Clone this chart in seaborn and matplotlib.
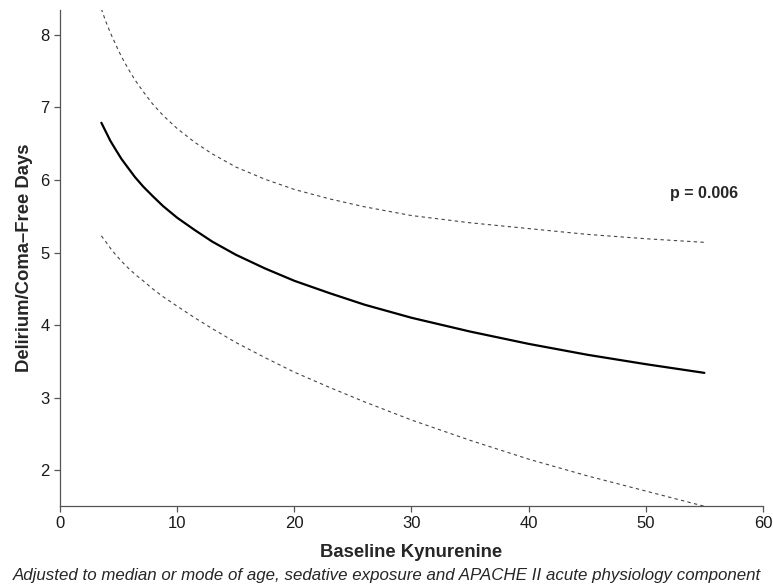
import matplotlib
matplotlib.use("Agg")
import matplotlib.pyplot as plt
import seaborn as sns
import pandas as pd

# Data
kynurenine = [3.53, 3.9, 4.3, 4.75, 5.25, 5.8, 6.4, 7.1, 7.9, 8.8, 10, 11.5, 13, 15, 17.5,
              20, 23, 26, 30, 35, 40, 45, 50, 55]
estimate = [6.79, 6.67, 6.54, 6.42, 6.29, 6.17, 6.04, 5.91, 5.78, 5.64, 5.48, 5.31, 5.15, 4.97, 4.78,
            4.61, 4.44, 4.28, 4.10, 3.91, 3.74, 3.59, 3.46, 3.34]
upper_ci = [8.36, 8.19, 8.03, 7.87, 7.70, 7.54, 7.38, 7.22, 7.05, 6.89, 6.71, 6.52, 6.36, 6.18, 6.01,
            5.87, 5.74, 5.63, 5.51, 5.41, 5.33, 5.25, 5.19, 5.14]
lower_ci = [5.23, 5.15, 5.06, 4.97, 4.88, 4.79, 4.70, 4.61, 4.50, 4.39, 4.26, 4.10, 3.95, 3.76, 3.55,
            3.35, 3.14, 2.94, 2.69, 2.41, 2.15, 1.92, 1.71, 1.50]
x_ticks = [0, 10, 20, 30, 40, 50, 60]
y_ticks = [2, 3, 4, 5, 6, 7, 8]

df = pd.DataFrame({"x": kynurenine, "est": estimate, "up": upper_ci, "lo": lower_ci})

sns.set_style("ticks")
plt.rcParams["font.family"] = ["Liberation Sans", "DejaVu Sans"]

fig = plt.figure(figsize=(7.73, 5.87), dpi=100)
ax = fig.add_axes([0.0776, 0.1385, 0.9094, 0.8445])

sns.lineplot(data=df, x="x", y="est", ax=ax, color="black", linewidth=1.6,
             sort=False, estimator=None)
for col in ["up", "lo"]:
    sns.lineplot(data=df, x="x", y=col, ax=ax, color="#444444", linewidth=0.8,
                 linestyle=(0, (3, 3)), sort=False, estimator=None)

ax.set_xlim(0, 60)
ax.set_ylim(1.508, 8.345)
ax.set_xticks(x_ticks)
ax.set_yticks(y_ticks)
ax.tick_params(axis="both", labelsize=12, length=4.5, width=0.9, color="#555555",
               labelcolor="#1a1a1a", pad=3)
for side in ["top", "right"]:
    ax.spines[side].set_visible(False)
for side in ["left", "bottom"]:
    ax.spines[side].set_color("#555555")
    ax.spines[side].set_linewidth(0.9)

ax.set_xlabel("Baseline Kynurenine", fontsize=13.3, fontweight="bold", labelpad=9.5)
ax.set_ylabel("Delirium/Coma–Free Days", fontsize=13.3, fontweight="bold", labelpad=5.5)

ax.text(52.1, 5.82, "p = 0.006", fontsize=11.5, fontweight="bold", ha="left", va="center")

fig.text(0.5, 0.02, "Adjusted to median or mode of age, sedative exposure and APACHE II acute physiology component",
         fontsize=12.2, style="italic", ha="center", va="center")

fig.savefig("out.png", dpi=100)
